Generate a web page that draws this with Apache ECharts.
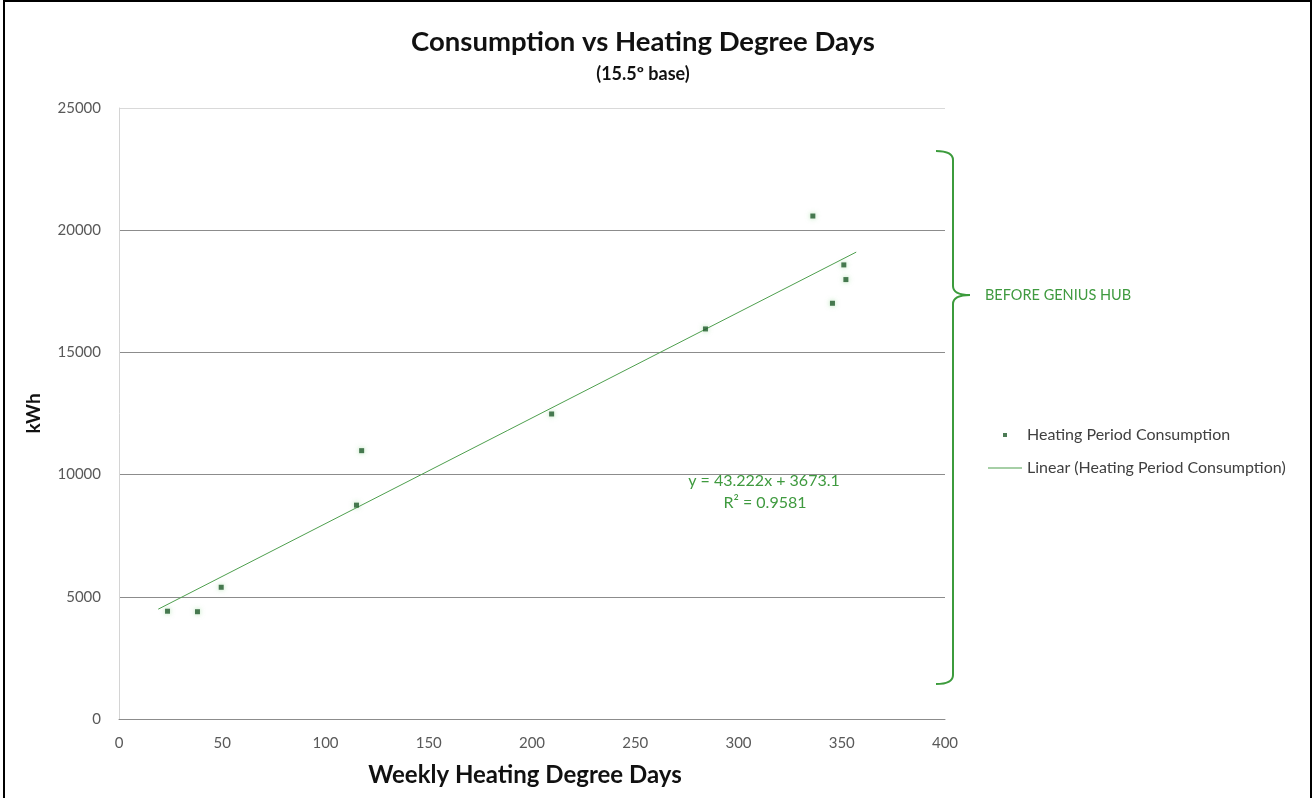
<!DOCTYPE html>
<html>
<head>
<meta charset="utf-8">
<script src="https://cdn.jsdelivr.net/npm/echarts@6/dist/echarts.min.js"></script>
<style>
html,body{margin:0;padding:0;background:#fff;}
#chart{width:1315px;height:798px;}
</style>
</head>
<body>
<div id="chart"></div>
<script>
// ---- data ----
const hdd = [23.5, 38, 49.5, 115, 117.5, 209.5, 284, 336, 345.5, 351, 352];
const kwh = [4410, 4390, 5390, 8750, 10980, 12480, 15960, 20580, 17010, 18580, 17980];
const trendX = [19, 357];
const trendY = [4494, 19104];
const xTicks = [0, 50, 100, 150, 200, 250, 300, 350, 400];
const yTicks = [0, 5000, 10000, 15000, 20000, 25000];
const titleText = 'Consumption vs Heating Degree Days';
const subtitleText = '(15.5º base)';
const seriesName = 'Heating Period Consumption';
const trendName = 'Linear (Heating Period Consumption)';
const equationLines = ['y = 43.222x + 3673.1', 'R² = 0.9581'];
const noteText = 'BEFORE GENIUS HUB';

const FONT = 'Lato, "Open Sans", sans-serif';
const GREEN = '#3f9a3f';
const chart = echarts.init(document.getElementById('chart'));

const scatterData = hdd.map((x, i) => [x, kwh[i]]);
const trendData = trendX.map((x, i) => [x, trendY[i]]);

const bracketStyle = {fill: 'none', stroke: '#3c9b3c', lineWidth: 2};

chart.setOption({
  animation: false,
  backgroundColor: '#fff',
  title: {
    text: titleText,
    subtext: subtitleText,
    left: 638,
    textAlign: 'center',
    top: 21,
    itemGap: 6,
    textStyle: {fontFamily: FONT, fontSize: 27.5, fontWeight: 'bold', color: '#111', lineHeight: 32},
    subtextStyle: {fontFamily: FONT, fontSize: 18, fontWeight: 'bold', color: '#111', lineHeight: 20}
  },
  grid: {left: 119, right: 370, top: 108, bottom: 79, containLabel: false},
  xAxis: {
    type: 'value', min: xTicks[0], max: xTicks[xTicks.length - 1], interval: 50,
    name: 'Weekly Heating Degree Days', nameLocation: 'middle', nameGap: 44,
    nameTextStyle: {fontFamily: FONT, fontSize: 24, fontWeight: 'bold', color: '#111', padding: [0, 14, 0, 0]},
    axisLine: {show: true, lineStyle: {color: '#8c8c8c', width: 1}},
    axisTick: {show: false},
    splitLine: {show: false},
    axisLabel: {fontFamily: FONT, fontSize: 15, color: '#595959', margin: 17}
  },
  yAxis: {
    type: 'value', min: yTicks[0], max: yTicks[yTicks.length - 1], interval: 5000,
    name: 'kWh', nameLocation: 'middle', nameGap: 76, nameRotate: 90,
    nameTextStyle: {fontFamily: FONT, fontSize: 19, fontWeight: 'bold', color: '#111'},
    axisLine: {show: true, lineStyle: {color: '#d4d4d4', width: 1}},
    axisTick: {show: false},
    splitLine: {show: true, lineStyle: {color: ['#8c8c8c', '#8c8c8c', '#8c8c8c', '#8c8c8c', '#8c8c8c', '#d9d9d9'], width: 1}},
    axisLabel: {fontFamily: FONT, fontSize: 15, color: '#595959', margin: 18, formatter: v => String(v)}
  },
  legend: {
    orient: 'vertical', left: 983, top: 422, itemWidth: 34, itemHeight: 8, itemGap: 17,
    textStyle: {fontFamily: FONT, fontSize: 16, color: '#404040'},
    data: [
      {name: seriesName, icon: 'path://M0,0M34,8M15,2h4v4h-4z'},
      {name: trendName, icon: 'path://M0,0M34,8M0,3.5h34v1h-34z'}
    ]
  },
  series: [
    {
      name: seriesName, type: 'scatter', data: scatterData,
      symbol: 'rect', symbolSize: 5,
      itemStyle: {color: '#1f5a2a', shadowBlur: 5, shadowColor: 'rgba(110,200,110,0.7)'},
      z: 3
    },
    {
      name: trendName, type: 'line', data: trendData,
      symbol: 'none', lineStyle: {color: '#4e9f4e', width: 1},
      itemStyle: {color: '#4e9f4e'},
      z: 2
    }
  ],
  graphic: [
    {type: 'rect', shape: {x: 4, y: 1, width: 1307, height: 800}, style: {fill: 'none', stroke: '#000', lineWidth: 2}, silent: true},
    {type: 'text', x: 764, y: 481, style: {text: equationLines[0], fontFamily: FONT, fontSize: 16, fill: GREEN, align: 'center', verticalAlign: 'middle'}},
    {type: 'text', x: 765, y: 503, style: {text: equationLines[1], fontFamily: FONT, fontSize: 16, fill: GREEN, align: 'center', verticalAlign: 'middle'}},
    {type: 'bezierCurve', shape: {x1: 936, y1: 151, x2: 953, y2: 160, cpx1: 953, cpy1: 151}, style: bracketStyle},
    {type: 'line', shape: {x1: 953, y1: 160, x2: 953, y2: 286}, style: bracketStyle},
    {type: 'bezierCurve', shape: {x1: 953, y1: 286, x2: 970, y2: 295, cpx1: 953, cpy1: 295}, style: bracketStyle},
    {type: 'bezierCurve', shape: {x1: 970, y1: 295, x2: 953, y2: 304, cpx1: 953, cpy1: 295}, style: bracketStyle},
    {type: 'line', shape: {x1: 953, y1: 304, x2: 953, y2: 675}, style: bracketStyle},
    {type: 'bezierCurve', shape: {x1: 953, y1: 675, x2: 936, y2: 684, cpx1: 953, cpy1: 684}, style: bracketStyle},
    {type: 'text', x: 985, y: 295, style: {text: noteText, fontFamily: FONT, fontSize: 14.5, fill: GREEN, verticalAlign: 'middle'}}
  ]
});
</script>
</body>
</html>
